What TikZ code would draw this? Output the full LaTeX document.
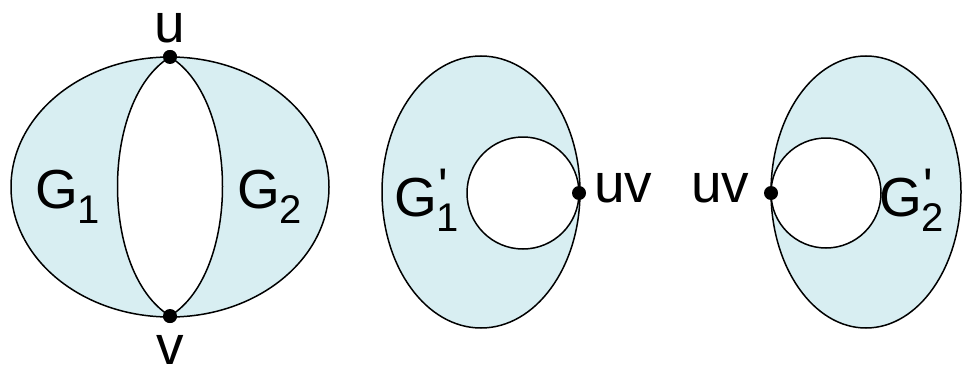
\documentclass[tikz,border=0pt]{standalone}
\usepackage{fontspec}
\setmainfont{Liberation Sans}
\definecolor{regfill}{RGB}{216,238,242}
\newcommand{\mybig}{\fontsize{55}{55}\selectfont}
\newcommand{\mysub}[1]{\raisebox{-15pt}{\fontsize{40}{40}\selectfont #1}}
\newcommand{\mysubp}[1]{\rlap{\raisebox{13pt}{\fontsize{50}{50}\selectfont\kern2pt\textquotesingle}}\raisebox{-15pt}{\fontsize{40}{40}\selectfont #1}}
\begin{document}
\begin{tikzpicture}[x=1pt,y=-1pt,
  outline/.style={line width=1.5pt,draw=black},
  vdot/.style={circle,fill=black,inner sep=0pt,minimum size=14pt},
  lbl/.style={inner sep=0pt,font=\mybig}]
\useasboundingbox (0,0) rectangle (963,369);
% left figure
\coordinate (c1) at (170,187);
\node[vdot] (u) at (170,57) {};
\node[vdot] (v) at (170,316) {};
\fill[regfill] (c1) ellipse [x radius=159, y radius=130];
\fill[white] (u.center) .. controls (100,100) and (100,273) .. (v.center)
   .. controls (240,273) and (240,100) .. (u.center);
\draw[outline] (c1) ellipse [x radius=159, y radius=130];
\draw[outline] (u.center) .. controls (100,100) and (100,273) .. (v.center);
\draw[outline] (u.center) .. controls (240,100) and (240,273) .. (v.center);
\node[vdot] at (u.center) {};
\node[vdot] at (v.center) {};
\node[lbl,anchor=base] (ul) at (170,43) {u};
\node[lbl,anchor=base,text depth=0pt] (vl) at (170,364) {v};
\node[lbl,anchor=base west] (g1) at (35,208) {G\mysub{1}};
\node[lbl,anchor=base west] (g2) at (237,208) {G\mysub{2}};
% middle figure
\coordinate (c2) at (481,192);
\fill[regfill] (c2) ellipse [x radius=99, y radius=136];
\coordinate (k2) at (523,193);
\fill[white] (k2) circle [radius=56];
\draw[outline] (c2) ellipse [x radius=99, y radius=136];
\draw[outline] (k2) circle [radius=56];
\node[vdot] (uv1) at (579,193) {};
\node[lbl,anchor=base west] (uvl1) at (594,202) {uv};
\node[lbl,anchor=base west] (g1p) at (394,216) {G\mysubp{1}};
% right figure
\coordinate (c3) at (866,192);
\fill[regfill] (c3) ellipse [x radius=95, y radius=136];
\coordinate (k3) at (826,193);
\fill[white] (k3) circle [radius=55];
\draw[outline] (c3) ellipse [x radius=95, y radius=136];
\draw[outline] (k3) circle [radius=55];
\node[vdot] (uv2) at (771,193) {};
\node[lbl,anchor=base west] (uvl2) at (691,202) {uv};
\node[lbl,anchor=base west] (g2p) at (879,216) {G\mysubp{2}};
\end{tikzpicture}
\end{document}
